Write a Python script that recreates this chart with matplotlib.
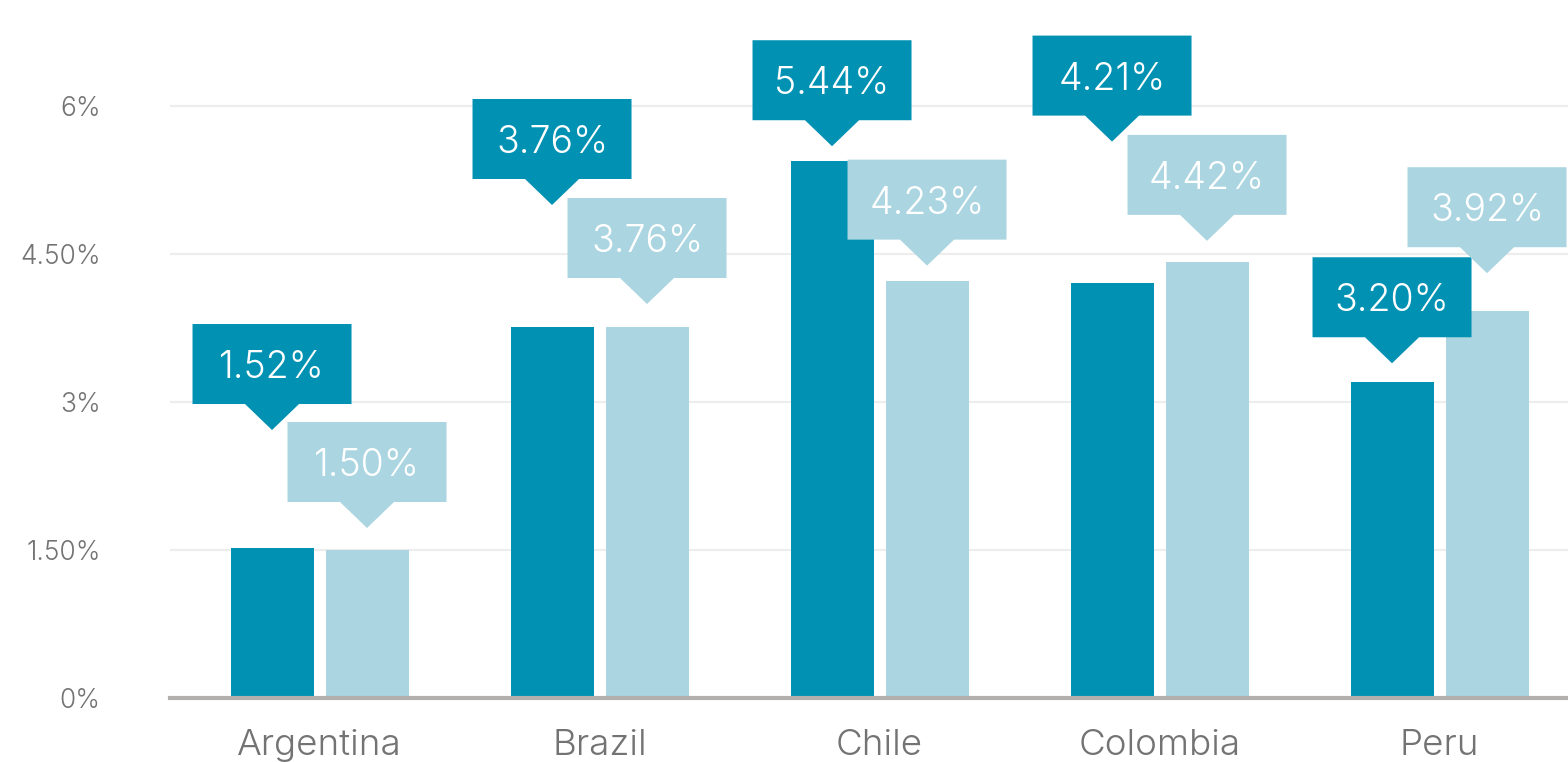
import matplotlib
matplotlib.use("Agg")
import matplotlib.pyplot as plt
from matplotlib.patches import Polygon
from matplotlib.transforms import ScaledTranslation
import numpy as np

# Data
countries = ["Argentina", "Brazil", "Chile", "Colombia", "Peru"]
series_dark = [1.52, 3.76, 5.44, 4.21, 3.20]
series_light = [1.50, 3.76, 4.23, 4.42, 3.92]
y_ticks = [0, 1.5, 3, 4.5, 6]
y_tick_labels = ["0%", "1.50%", "3%", "4.50%", "6%"]

# Styling / layout
DARK = "#0091B3"
LIGHT = "#ABD6E1"
GRAY_TEXT = "#737373"
FONT = ["Inter", "DejaVu Sans"]
WEIGHT = 300
# vertical gap (pixels) between each bar top and its callout tip
gap_dark = [118, 122, 15, 141, 19]
gap_light = [22, 23, 15, 21, 38]

plt.rcParams["font.family"] = FONT

W, H, DPI = 1568, 762, 100
fig = plt.figure(figsize=(W / DPI, H / DPI), dpi=DPI)
ax = fig.add_axes([170 / W, 64 / H, 1398 / W, 698 / H])

px_per_unit_x = 280.0
px_per_pct = 98.67
x = np.arange(len(countries))
bar_w = 83 / px_per_unit_x
off = 47.5 / px_per_unit_x

ax.bar(x - off, series_dark, width=bar_w, color=DARK, zorder=2)
ax.bar(x + off, series_light, width=bar_w, color=LIGHT, zorder=2)


def callout(xc, yv, text, color, gap_px):
    tr = fig.dpi_scale_trans + ScaledTranslation(xc, yv, ax.transData)
    w, h, pw, ph = 1.59, 0.80, 0.54, 0.26
    g = gap_px / DPI
    verts = [(0, g), (-pw / 2, g + ph), (-w / 2, g + ph), (-w / 2, g + ph + h),
             (w / 2, g + ph + h), (w / 2, g + ph), (pw / 2, g + ph)]
    poly = Polygon(verts, closed=True, transform=tr, facecolor=color,
                   edgecolor="none", clip_on=False, zorder=5)
    fig.add_artist(poly)
    fig.text(0, g + ph + h / 2, text, transform=tr, ha="center",
             va="center_baseline", color="white", fontsize=27,
             fontweight=WEIGHT, zorder=6)


for i in range(len(countries)):
    callout(x[i] - off, series_dark[i], f"{series_dark[i]:.2f}%", DARK, gap_dark[i])
    callout(x[i] + off, series_light[i], f"{series_light[i]:.2f}%", LIGHT, gap_light[i])

ax.set_xlim(-0.534, -0.534 + 1398 / px_per_unit_x)
ax.set_ylim(0, 698 / px_per_pct)

ax.set_yticks(y_ticks)
ax.set_yticklabels(y_tick_labels)
ax.set_xticks(x)
ax.set_xticklabels(countries)

ax.tick_params(axis="y", length=0, pad=50, labelsize=19, labelcolor=GRAY_TEXT)
ax.tick_params(axis="x", length=0, pad=22, labelsize=26.5, labelcolor=GRAY_TEXT)
for lab in ax.get_yticklabels() + ax.get_xticklabels():
    lab.set_fontweight(WEIGHT)

ax.yaxis.grid(True, color="#EDEDED", linewidth=1.6)
ax.set_axisbelow(True)
for s in ["top", "right", "left"]:
    ax.spines[s].set_visible(False)
ax.spines["bottom"].set_color("#B3AFAF")
ax.spines["bottom"].set_linewidth(3)
ax.spines["bottom"].set_zorder(3)

fig.savefig("out.png", dpi=DPI)
